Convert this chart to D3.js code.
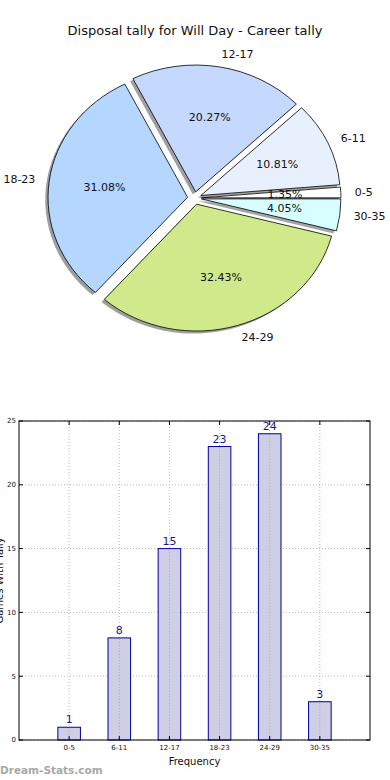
<!DOCTYPE html>
<html><head><meta charset="utf-8">
<script src="https://cdn.jsdelivr.net/npm/d3@7"></script>
<style>body{margin:0;background:#fff}svg{display:block}text{font-family:"DejaVu Sans",sans-serif}</style>
</head><body>
<script>
const categories = ["0-5","6-11","12-17","18-23","24-29","30-35"];
const counts = [1,8,15,23,24,3];
const sliceColors = ["#ffffff","#e8f0fe","#c5d9ff","#b5d6ff","#d0ea8b","#d8ffff"];
const yTicks = [0,5,10,15,20,25];
const title = "Disposal tally for Will Day - Career tally";

const W = 390, H = 780;
const svg = d3.select("body").append("svg").attr("width", W).attr("height", H);

svg.append("text").attr("x", 195).attr("y", 35).attr("text-anchor","middle")
  .attr("font-size", 13).attr("fill","#111").text(title);

// ---- Pie (elliptical, matplotlib style) ----
const cx = 194.5, cy = 198.1, rx = 139.5, ry = 126.8, explode = 0.05;
const total = d3.sum(counts);
const pie = d3.pie().sort(null).startAngle(Math.PI/2).endAngle(Math.PI/2 - 2*Math.PI);
const arcs = pie(counts);
const arcGen = d3.arc().innerRadius(0).outerRadius(1);
const g = svg.append("g");
function center(d){
  const a = (d.startAngle + d.endAngle)/2;
  return [cx + explode*rx*Math.sin(a), cy - explode*ry*Math.cos(a), a];
}
// shadows
arcs.forEach((d,i)=>{
  const [x,y] = center(d);
  const c = d3.rgb(sliceColors[i]);
  const sc = d3.rgb(0.3*c.r, 0.3*c.g, 0.3*c.b);
  g.append("path").attr("d", arcGen(d))
    .attr("transform", `translate(${x-0.02*rx},${y+0.02*ry}) scale(${rx},${ry})`)
    .attr("fill", sc).attr("fill-opacity", 0.5).attr("stroke","none");
});
arcs.forEach((d,i)=>{
  const [x,y] = center(d);
  g.append("path").attr("d", arcGen(d))
    .attr("transform", `translate(${x},${y}) scale(${rx},${ry})`)
    .attr("fill", sliceColors[i]).attr("stroke","#000").attr("stroke-width",0.8)
    .attr("vector-effect","non-scaling-stroke");
});
arcs.forEach((d,i)=>{
  const [x,y,a] = center(d);
  const lx = x + 1.1*rx*Math.sin(a), ly = y - 1.1*ry*Math.cos(a);
  g.append("text").attr("x", lx).attr("y", ly).attr("dy","0.35em")
    .attr("text-anchor", lx > cx ? "start" : "end").attr("font-size", 11).attr("fill","#111")
    .text(categories[i]);
  const px = x + 0.6*rx*Math.sin(a), py = y - 0.6*ry*Math.cos(a);
  g.append("text").attr("x", px).attr("y", py).attr("dy","0.35em")
    .attr("text-anchor","middle").attr("font-size", 11).attr("fill","#111")
    .text((100*counts[i]/total).toFixed(2) + "%");
});

// ---- Bar chart ----
const L = 19, R = 370, T = 421, B = 740;
const x = d3.scaleLinear().domain([-1, 6]).range([L, R]);
const y = d3.scaleLinear().domain([0, 25]).range([B, T]);
const bw = x(0.45) - x(0);
const bg = svg.append("g");
// grid
yTicks.forEach(t=>{
  bg.append("line").attr("x1",L).attr("x2",R).attr("y1",y(t)).attr("y2",y(t))
    .attr("stroke","#b8b8b8").attr("stroke-dasharray","1,2").attr("stroke-width",1);
});
categories.forEach((c,i)=>{
  bg.append("line").attr("x1",x(i)).attr("x2",x(i)).attr("y1",T).attr("y2",B)
    .attr("stroke","#b8b8b8").attr("stroke-dasharray","1,2").attr("stroke-width",1);
});
// bars
bg.selectAll("rect.bar").data(counts).join("rect").attr("class","bar")
  .attr("x",(d,i)=>x(i)-bw/2).attr("y",d=>y(d)).attr("width",bw).attr("height",d=>B-y(d))
  .attr("fill","#cbcce4").attr("fill-opacity",0.95).attr("stroke","#000099").attr("stroke-width",1);
// vertical grid visible over bars (as in reference)
categories.forEach((c,i)=>{
  bg.append("line").attr("x1",x(i)).attr("x2",x(i)).attr("y1",y(counts[i])+1).attr("y2",B)
    .attr("stroke","#a8a8b8").attr("stroke-dasharray","1,2").attr("stroke-width",1);
});
bg.selectAll("text.val").data(counts).join("text").attr("class","val")
  .attr("x",(d,i)=>x(i)).attr("y",d=>y(d)-4).attr("text-anchor","middle")
  .attr("font-size",11).attr("fill","#1a1a8c").text(d=>d);
// frame
bg.append("rect").attr("x",L).attr("y",T).attr("width",R-L).attr("height",B-T)
  .attr("fill","none").attr("stroke","#000").attr("stroke-width",1);
// ticks (inward, both sides)
yTicks.forEach(t=>{
  bg.append("line").attr("x1",L).attr("x2",L+4).attr("y1",y(t)).attr("y2",y(t)).attr("stroke","#000");
  bg.append("line").attr("x1",R-4).attr("x2",R).attr("y1",y(t)).attr("y2",y(t)).attr("stroke","#000");
  bg.append("text").attr("x",L-3).attr("y",y(t)).attr("dy","0.35em").attr("text-anchor","end")
    .attr("font-size",7).attr("fill","#111").text(t);
});
categories.forEach((c,i)=>{
  bg.append("line").attr("x1",x(i)).attr("x2",x(i)).attr("y1",B).attr("y2",B-4).attr("stroke","#000");
  bg.append("line").attr("x1",x(i)).attr("x2",x(i)).attr("y1",T).attr("y2",T+4).attr("stroke","#000");
  bg.append("text").attr("x",x(i)).attr("y",B+10).attr("text-anchor","middle")
    .attr("font-size",7).attr("fill","#111").text(c);
});
bg.append("text").attr("x",(L+R)/2).attr("y",765).attr("text-anchor","middle")
  .attr("font-size",10).attr("fill","#111").text("Frequency");
bg.append("text").attr("transform",`translate(3,${(T+B)/2}) rotate(-90)`).attr("text-anchor","middle")
  .attr("font-size",10).attr("fill","#111").text("Games With Tally");
svg.append("text").attr("x",0).attr("y",774).attr("font-size",10.5).attr("font-weight","bold")
  .attr("fill","#a8a8a8").text("Dream-Stats.com");
</script>
</body></html>
